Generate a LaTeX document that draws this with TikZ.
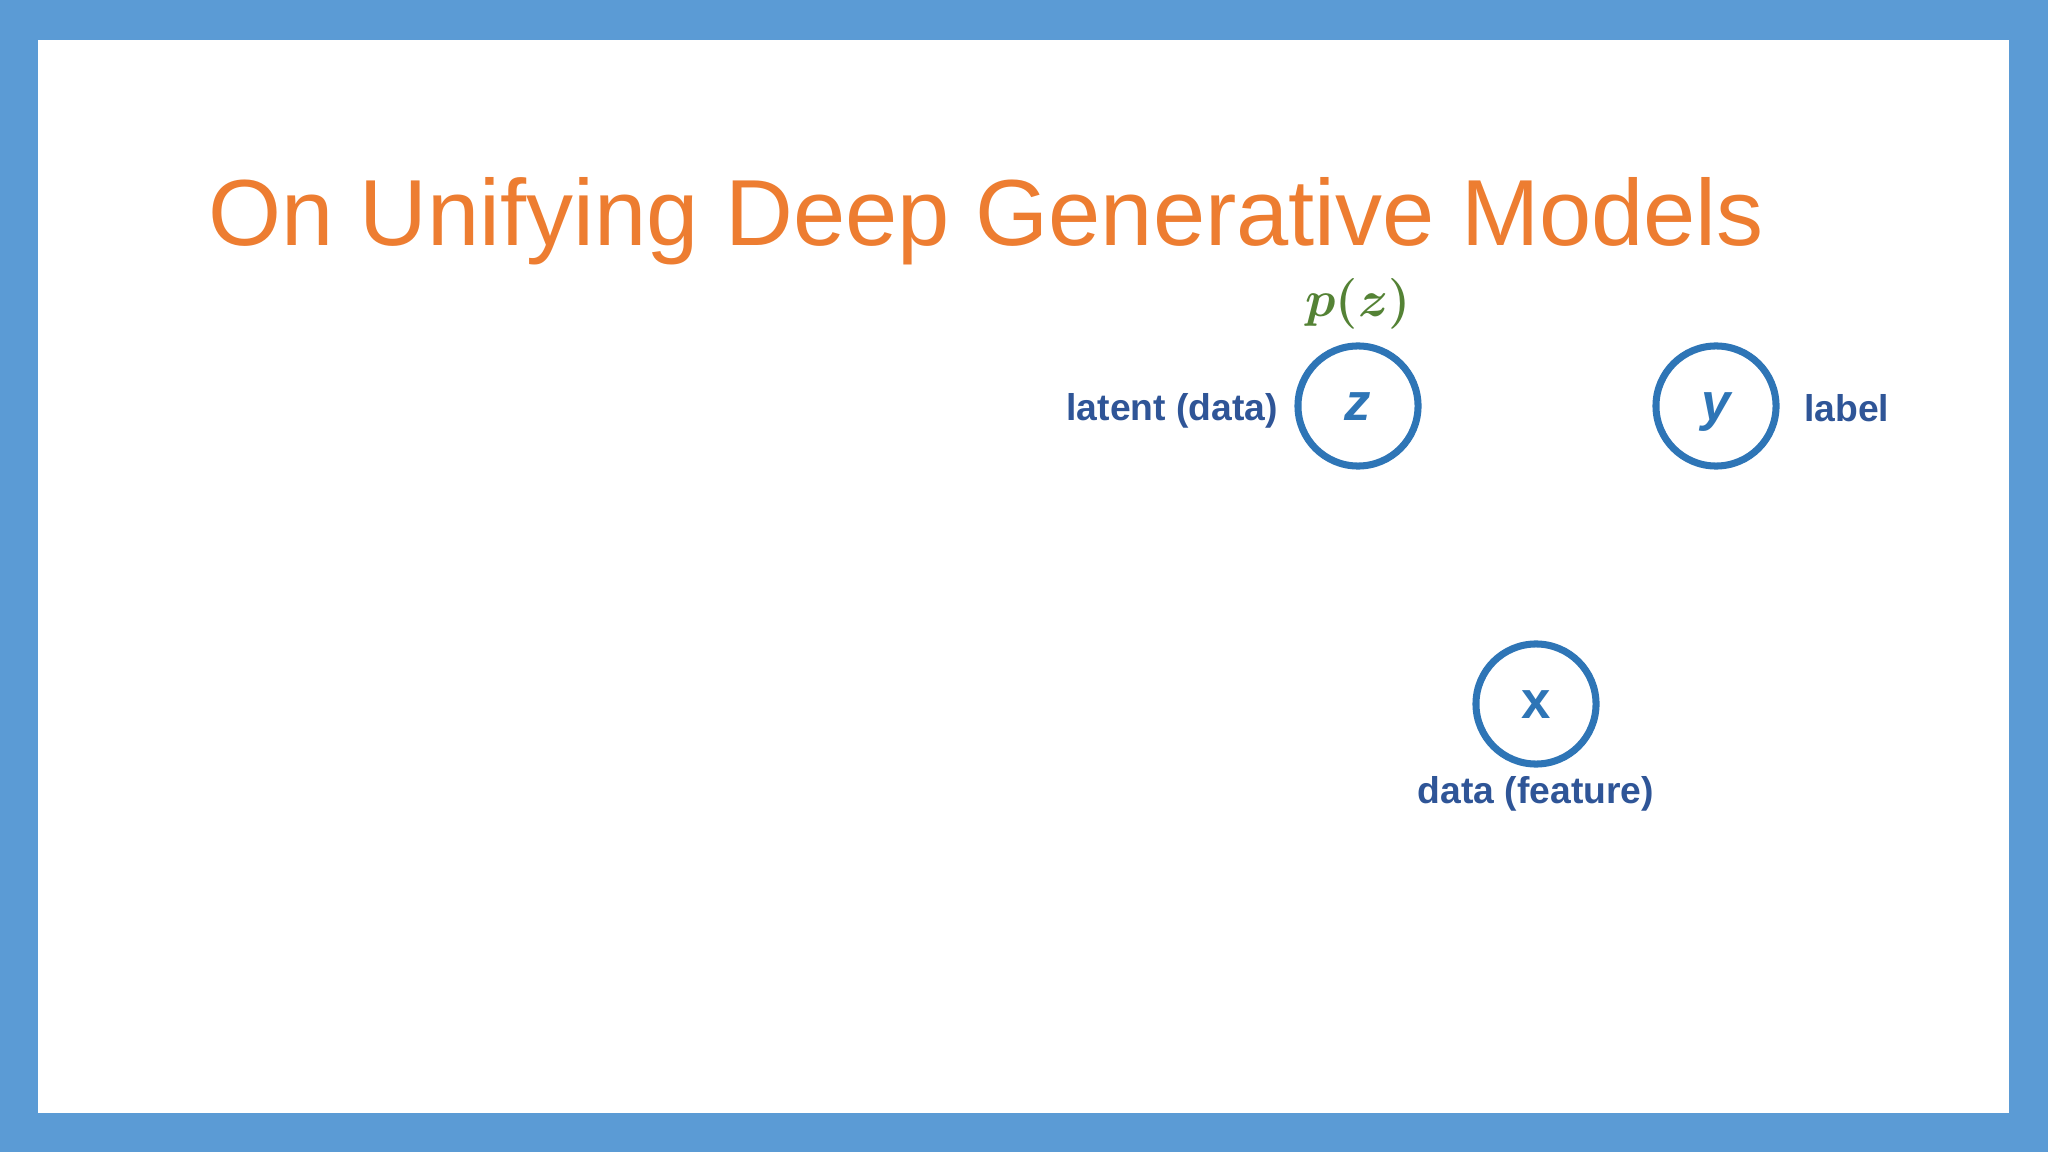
\documentclass[tikz,border=0pt]{standalone}
\usepackage{fontspec}
\setmainfont{Liberation Sans}
\usetikzlibrary{positioning}
\definecolor{frameblue}{HTML}{5B9BD5}
\definecolor{titleorange}{HTML}{ED7D31}
\definecolor{nodeblue}{HTML}{2E75B6}
\definecolor{labelblue}{HTML}{2F5597}
\definecolor{priorgreen}{HTML}{548235}
\begin{document}
\begin{tikzpicture}[x=0.01cm,y=-0.01cm,
    var/.style={circle,draw=nodeblue,line width=2pt,minimum size=1.2cm,inner sep=0pt,
      text height=8.5pt,text depth=0pt,
      text=nodeblue,font=\fontsize{15}{18}\selectfont\bfseries},
    caption/.style={inner sep=0pt,text=labelblue,font=\fontsize{10.6}{12}\selectfont\bfseries}]
    % slide frame
    \fill[frameblue] (0,0) rectangle (2048,1152);
    \fill[white] (38,40) rectangle (2009,1113);
    \useasboundingbox (0,0) rectangle (2048,1152);
    % title
    \node[anchor=base west,inner sep=0pt,text=titleorange,font=\fontsize{26.7}{32}\selectfont]
        (title) at (208,246) {On Unifying Deep Generative Models};
    % variables
    \node[var] (z) at (1358,406) {\itshape z};
    \node[var] (y) at (1716,406) {\itshape y};
    \node[var] (x) at (1536,704) {x};
    % their captions
    \node[caption,left=0.16cm of z,anchor=base east,yshift=-0.14cm] (zcap) {latent (data)};
    \node[caption,right=0.24cm of y,anchor=base west,yshift=-0.15cm] (ycap) {label};
    \node[caption,below=0.08cm of x] (xcap) {data (feature)};
    \node[inner sep=0pt,text=priorgreen,font=\fontsize{13.5}{16}\selectfont\boldmath,above=0.13cm of z]
        (pz) {$p(z)$};
\end{tikzpicture}
\end{document}
